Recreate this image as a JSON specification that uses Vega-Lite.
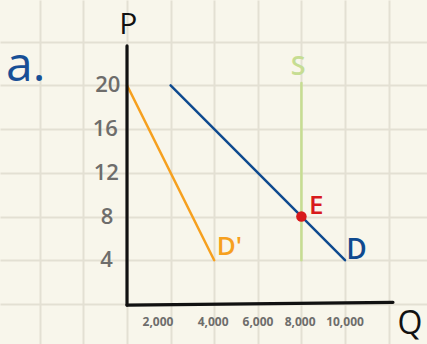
{
  "$schema": "https://vega.github.io/schema/vega-lite/v6.json",
  "width": 427,
  "height": 344,
  "autosize": {"type": "fit", "contains": "padding"},
  "padding": 0,
  "background": "#f8f6eb",
  "config": {"view": {"stroke": null}},
  "resolve": {"scale": {"color": "independent"}},
  "datasets": {
    "curves": [
      {"series": "D'", "Q": 0, "P": 20},
      {"series": "D'", "Q": 4000, "P": 4},
      {"series": "D", "Q": 2000, "P": 20},
      {"series": "D", "Q": 10000, "P": 4},
      {"series": "S", "Q": 8000, "P": 4},
      {"series": "S", "Q": 8000, "P": 20.2}
    ],
    "axes": [
      {"axis": "y", "Q": 0, "P": 23.6},
      {"axis": "y", "Q": 0, "P": -0.1},
      {"axis": "x", "Q": 0, "P": -0.1},
      {"axis": "x", "Q": 12200, "P": 0.15}
    ],
    "eq": [{"Q": 8000, "P": 8}],
    "ticks": [
      {"label": "20", "Q": -880, "P": 20},
      {"label": "16", "Q": -1000, "P": 16},
      {"label": "12", "Q": -950, "P": 12},
      {"label": "8", "Q": -920, "P": 8},
      {"label": "4", "Q": -940, "P": 4}
    ],
    "xticks": [
      {"label": "2,000", "Q": 1420, "P": -1.65},
      {"label": "4,000", "Q": 3950, "P": -1.65},
      {"label": "6,000", "Q": 6010, "P": -1.65},
      {"label": "8,000", "Q": 7940, "P": -1.65},
      {"label": "10,000", "Q": 10000, "P": -1.65}
    ],
    "labels": [
      {"label": "P", "Q": 60, "P": 25.5, "kind": "P"},
      {"label": "Q", "Q": 12980, "P": -1.85, "kind": "Q"},
      {"label": "a.", "Q": -4650, "P": 21.7, "kind": "title"},
      {"label": "S", "Q": 7850, "P": 21.65, "kind": "S"},
      {"label": "E", "Q": 8680, "P": 9.0, "kind": "E"},
      {"label": "D'", "Q": 4700, "P": 5.2, "kind": "D'"},
      {"label": "D", "Q": 10530, "P": 4.8, "kind": "D"}
    ]
  },
  "encoding": {
    "x": {
      "field": "Q", "type": "quantitative",
      "scale": {"domain": [-5826, 13761], "nice": false, "zero": false},
      "axis": {"values": [-4000, -2000, 0, 2000, 4000, 6000, 8000, 10000, 12000], "grid": true, "gridColor": "#e3e0d3", "gridWidth": 2, "gridOpacity": 1, "labels": false, "ticks": false, "domain": false, "title": null}
    },
    "y": {
      "field": "P", "type": "quantitative",
      "scale": {"domain": [-3.66, 27.8], "nice": false, "zero": false},
      "axis": {"values": [0, 4, 8, 12, 16, 20, 24], "grid": true, "gridColor": "#e3e0d3", "gridWidth": 2, "gridOpacity": 1, "labels": false, "ticks": false, "domain": false, "title": null}
    }
  },
  "layer": [
    {
      "data": {"name": "curves"},
      "mark": {"type": "line", "strokeWidth": 2.5, "strokeCap": "round"},
      "encoding": {
        "detail": {"field": "series"},
        "color": {"field": "series", "type": "nominal", "scale": {"domain": ["D'", "D", "S"], "range": ["#f6a01e", "#0f4a8f", "#c6dd92"]}, "legend": null}
      }
    },
    {
      "data": {"name": "axes"},
      "mark": {"type": "line", "strokeWidth": 3.2, "color": "#111111", "strokeCap": "round"},
      "encoding": {"detail": {"field": "axis"}}
    },
    {
      "data": {"name": "eq"},
      "mark": {"type": "point", "filled": true, "size": 110, "color": "#d81a1c", "opacity": 1}
    },
    {
      "data": {"name": "ticks"},
      "mark": {"type": "text", "font": "Open Sans", "fontSize": 22, "fontWeight": 600, "color": "#6e6d6b", "align": "center", "baseline": "middle"},
      "encoding": {"text": {"field": "label"}}
    },
    {
      "data": {"name": "xticks"},
      "mark": {"type": "text", "font": "Open Sans", "fontSize": 12, "fontWeight": 700, "color": "#6e6d6b", "align": "center", "baseline": "middle"},
      "encoding": {"text": {"field": "label"}}
    },
    {
      "data": {"name": "labels"},
      "transform": [{"filter": "datum.kind == 'P'"}],
      "mark": {"type": "text", "font": "Open Sans", "fontSize": 30, "color": "#111111", "align": "center", "baseline": "middle"},
      "encoding": {"text": {"field": "label"}}
    },
    {
      "data": {"name": "labels"},
      "transform": [{"filter": "datum.kind == 'Q'"}],
      "mark": {"type": "text", "font": "Open Sans", "fontSize": 32, "color": "#111111", "align": "center", "baseline": "middle"},
      "encoding": {"text": {"field": "label"}}
    },
    {
      "data": {"name": "labels"},
      "transform": [{"filter": "datum.kind == 'title'"}],
      "mark": {"type": "text", "font": "Open Sans", "fontSize": 48, "color": "#174f96", "align": "center", "baseline": "middle"},
      "encoding": {"text": {"field": "label"}}
    },
    {
      "data": {"name": "labels"},
      "transform": [{"filter": "datum.kind == 'S'"}],
      "mark": {"type": "text", "font": "Open Sans", "fontSize": 27, "fontWeight": 600, "color": "#c6dd92", "align": "center", "baseline": "middle"},
      "encoding": {"text": {"field": "label"}}
    },
    {
      "data": {"name": "labels"},
      "transform": [{"filter": "datum.kind == 'E'"}],
      "mark": {"type": "text", "font": "Open Sans", "fontSize": 26, "fontWeight": 600, "color": "#d81a1c", "align": "center", "baseline": "middle"},
      "encoding": {"text": {"field": "label"}}
    },
    {
      "data": {"name": "labels"},
      "transform": [{"filter": "datum.kind == \"D'\""}],
      "mark": {"type": "text", "font": "Open Sans", "fontSize": 26, "fontWeight": 600, "color": "#f6a01e", "align": "center", "baseline": "middle"},
      "encoding": {"text": {"field": "label"}}
    },
    {
      "data": {"name": "labels"},
      "transform": [{"filter": "datum.kind == 'D'"}],
      "mark": {"type": "text", "font": "Open Sans", "fontSize": 28, "fontWeight": 600, "color": "#0f4a8f", "align": "center", "baseline": "middle"},
      "encoding": {"text": {"field": "label"}}
    }
  ]
}
